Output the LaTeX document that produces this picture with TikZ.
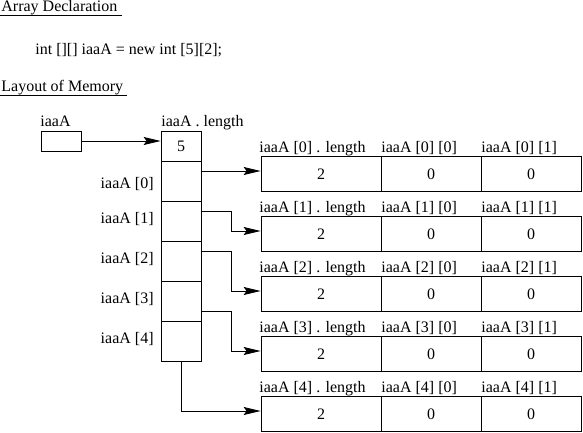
\documentclass[tikz,border=0pt]{standalone}
\usepackage{fontspec}
\setmainfont{Liberation Serif}
\usetikzlibrary{arrows.meta}

\begin{document}
\begin{tikzpicture}[x=1pt,y=-1pt,line width=0.8pt,
  font=\fontsize{16}{19}\selectfont,
  txt/.style={inner sep=0pt,anchor=base west},
  lbl/.style={inner sep=0pt,anchor=base east},
  cell/.style={draw,inner sep=0pt,minimum width=40pt,minimum height=40pt},
  lencell/.style={draw,inner sep=0pt,minimum width=120pt,minimum height=35pt},
  valcell/.style={draw,inner sep=0pt,minimum width=100pt,minimum height=35pt},
  ref/.style={-{Stealth[length=17pt,width=8pt,inset=3pt]}}]

  \useasboundingbox (0,0) rectangle (583,433);

  % headings
  \node[txt] (decl) at (1,12) {Array Declaration};
  \draw (0,15.5) -- (122,15.5);
  \node[txt] (code) at (35,55) {int [][] iaaA = new int [5][2];};
  \node[txt] (lay)  at (1,92) {Layout of Memory};
  \draw (0,95.5) -- (127,95.5);

  % reference variable and outer array
  \node[txt] at (40,127) {iaaA};
  \node[draw,inner sep=0pt,minimum width=40pt,minimum height=20pt] (ptr) at (61,141) {};
  \node[txt] at (161,127) {iaaA . length};
  \node[draw,inner sep=0pt,minimum width=40pt,minimum height=30pt] (len) at (181,146) {5};
  \node[cell] (c0) at (181,181) {};
  \node[cell] (c1) at (181,221) {};
  \node[cell] (c2) at (181,261) {};
  \node[cell] (c3) at (181,301) {};
  \node[cell] (c4) at (181,341) {};

  \node[lbl] at (154,188) {iaaA [0]};
  \node[lbl] at (154,223) {iaaA [1]};
  \node[lbl] at (154,263) {iaaA [2]};
  \node[lbl] at (154,303) {iaaA [3]};
  \node[lbl] at (154,343) {iaaA [4]};

  % inner arrays
  \node[lencell] (r0l) at (321,174) {2};
  \node[valcell] (r00) at (431,174) {0};
  \node[valcell] (r01) at (531,174) {0};
  \node[lencell] (r1l) at (321,234) {2};
  \node[valcell] (r10) at (431,234) {0};
  \node[valcell] (r11) at (531,234) {0};
  \node[lencell] (r2l) at (321,294) {2};
  \node[valcell] (r20) at (431,294) {0};
  \node[valcell] (r21) at (531,294) {0};
  \node[lencell] (r3l) at (321,354) {2};
  \node[valcell] (r30) at (431,354) {0};
  \node[valcell] (r31) at (531,354) {0};
  \node[lencell] (r4l) at (321,414) {2};
  \node[valcell] (r40) at (431,414) {0};
  \node[valcell] (r41) at (531,414) {0};

  \node[txt] at (259,152) {iaaA [0] . length};
  \node[txt] at (381,152) {iaaA [0] [0]};
  \node[txt] at (481,152) {iaaA [0] [1]};
  \node[txt] at (259,212) {iaaA [1] . length};
  \node[txt] at (381,212) {iaaA [1] [0]};
  \node[txt] at (481,212) {iaaA [1] [1]};
  \node[txt] at (259,272) {iaaA [2] . length};
  \node[txt] at (381,272) {iaaA [2] [0]};
  \node[txt] at (481,272) {iaaA [2] [1]};
  \node[txt] at (259,332) {iaaA [3] . length};
  \node[txt] at (381,332) {iaaA [3] [0]};
  \node[txt] at (481,332) {iaaA [3] [1]};
  \node[txt] at (259,392) {iaaA [4] . length};
  \node[txt] at (381,392) {iaaA [4] [0]};
  \node[txt] at (481,392) {iaaA [4] [1]};

  % references
  \draw[ref] (ptr.east) -- ([yshift=5pt]len.west);
  \draw[ref] ([yshift=10pt]c0.east) -- ([yshift=3pt]r0l.west);
  \draw[ref] ([yshift=10pt]c1.east) -- ++(30,0) |- ([yshift=3pt]r1l.west);
  \draw[ref] ([yshift=10pt]c2.east) -- ++(30,0) |- ([yshift=3pt]r2l.west);
  \draw[ref] ([yshift=-10pt]c3.east) -- ++(30,0) |- ([yshift=3pt]r3l.west);
  \draw[ref] (c4.south) |- ([yshift=3pt]r4l.west);
\end{tikzpicture}
\end{document}
